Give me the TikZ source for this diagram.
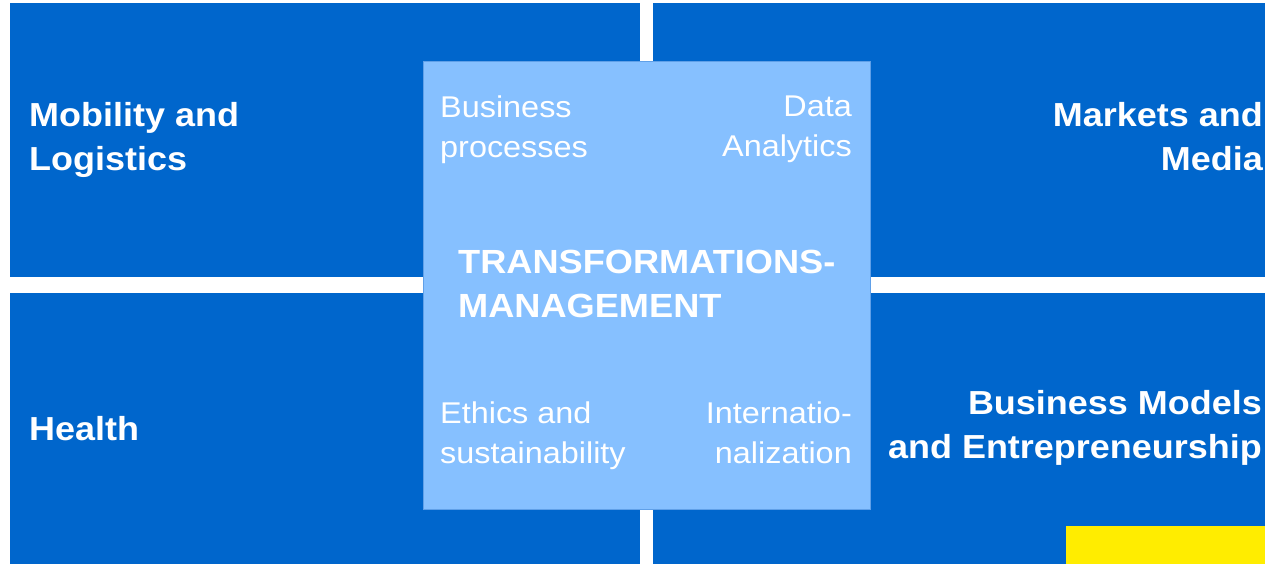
\documentclass[tikz,border=0pt]{standalone}
\usepackage{fontspec}
\setmainfont[FakeStretch=1.08]{Liberation Sans}
\usepackage{tikz}
\usetikzlibrary{positioning}
\definecolor{fieldblue}{RGB}{0,102,204}
\definecolor{coreblue}{RGB}{134,192,255}
\definecolor{coreedge}{RGB}{96,160,232}
\definecolor{markyellow}{RGB}{255,237,0}
\tikzset{field/.style={fill=fieldblue},
    fieldlabel/.style={text=white, inner sep=0pt, font=\fontsize{33.3}{44.5}\selectfont\bfseries},
    topiclabel/.style={text=white, inner sep=0pt, font=\fontsize{30}{40}\selectfont},
    corelabel/.style={text=white, inner sep=0pt, font=\fontsize{33.5}{44}\selectfont\bfseries}}

\begin{document}
\begin{tikzpicture}[x=1pt, y=-1pt]
        \useasboundingbox[fill=white] (0,0) rectangle (1265,564);
        % four fields
        \fill[field] (10,3.5) rectangle (640,277);
        \fill[field] (653,3.5) rectangle (1265,277);
        \fill[field] (10,293) rectangle (640,564);
        \fill[field] (653,293) rectangle (1265,564);
        \fill[markyellow] (1066,526) rectangle (1265,564);
        % core square
        \draw[fill=coreblue, draw=coreedge, line width=0.8pt] (423,61.5) rectangle (870,509);
        \node[fieldlabel, anchor=north west, align=left] (mobility) at (29,102) {Mobility and\\Logistics};
        \node[fieldlabel, anchor=north east, align=right] (markets) at (1263,102) {Markets and\\Media};
        \node[fieldlabel, anchor=north west, align=left] (health) at (29,416) {Health};
        \node[fieldlabel, anchor=north east, align=right] (models) at (1262,390) {Business Models\\and Entrepreneurship};
        \node[topiclabel, anchor=north west, align=left] (processes) at (440,96) {Business\\processes};
        \node[topiclabel, anchor=north east, align=right] (analytics) at (852,96) {Data\\Analytics};
        \node[topiclabel, anchor=north west, align=left] (ethics) at (440,402) {Ethics and\\sustainability};
        \node[topiclabel, anchor=north east, align=right] (intl) at (852,402) {Internatio-\\nalization};
        \node[corelabel, anchor=north west, align=left] (core) at (458,250) {TRANSFORMATIONS-\\MANAGEMENT};
    \end{tikzpicture}
\end{document}
